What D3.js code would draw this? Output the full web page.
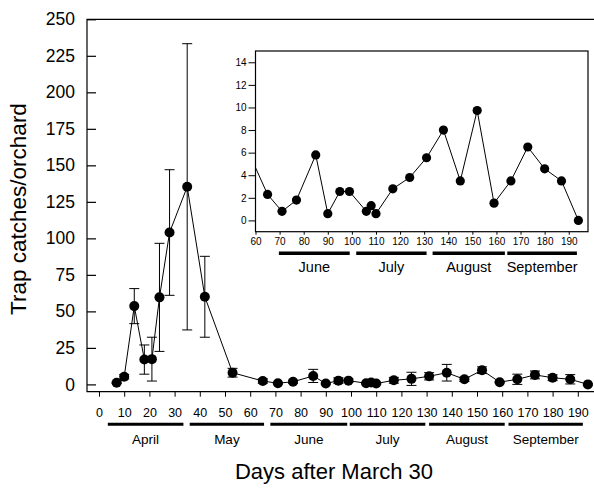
<!DOCTYPE html>
<html>
<head>
<meta charset="utf-8">
<script src="https://cdn.jsdelivr.net/npm/d3@7"></script>
<style>
  body { margin: 0; background: #fff; }
  text { font-family: "Liberation Sans", Arial, sans-serif; fill: #000; }
</style>
</head>
<body>
<script>
// sampling days (days after March 30), mean catches and SE
const days   = [7, 10, 14, 18, 21, 24, 28, 35, 42, 53, 65, 71, 77, 85, 90, 95, 99, 106, 108, 110,
                117, 124, 131, 138, 145, 152, 159, 166, 173, 180, 187, 194];
const catches = [1.1, 5.2, 53.6, 17, 17.3, 59.6, 104, 135.3, 60, 8, 2.3, 0.8, 1.8, 5.8, 0.6, 2.56, 2.56, 0.8, 1.3, 0.6,
                 2.8, 3.8, 5.55, 8.0, 3.5, 9.73, 1.53, 3.5, 6.5, 4.57, 3.5, 0];
const errors  = [0.5, 1.5, 12, 10, 15, 37, 43, 98, 27.7, 3, 1.5, 0.5, 1, 4.5, 0.5, 2, 1, 0.5, 0.8, 0.5,
                 2, 4.5, 2.5, 5.7, 1.5, 2.3, 0.5, 3.5, 2.7, 2, 3.2, 0.5];

const months = ["April", "May", "June", "July", "August", "September"];
const monthSpans = [[3.5, 33.5], [36, 65.5], [68, 98.5], [99.5, 129.5], [131, 161], [162.5, 192]];
const insetMonths = ["June", "July", "August", "September"];
const insetMonthSpans = [[69.7, 99.1], [101.8, 131], [133.5, 163.5], [164.5, 193.4]];

const yTicks = d3.range(0, 251, 25);
const xTicks = d3.range(0, 191, 10);
const insetYTicks = d3.range(0, 15, 2);
const insetXTicks = d3.range(60, 191, 10);

const points = days.map((d, i) => ({ day: d, value: catches[i], se: errors[i] }));

const width = 594, height = 488;
const svg = d3.select('body').append('svg')
  .attr('width', width)
  .attr('height', height);

// main scales
const x = d3.scaleLinear().domain([-4.76, 200]).range([87, 603]);
const y = d3.scaleLinear().domain([-5, 250]).range([391.7, 19.3]);

// inset scales
const ix = d3.scaleLinear().domain([60, 198]).range([255.5, 588]);
const iy = d3.scaleLinear().domain([-1, 15]).range([231.7, 51]);

drawMain();
drawInset();

function drawMain() {
  // frame: left, top, bottom
  svg.append('path')
    .attr('d', `M${x(200)},${y(250)}H${x(-4.76)}V${y(-5)}H${x(200)}`)
    .attr('fill', 'none').attr('stroke', '#000').attr('stroke-width', 1.2);

  let yAxis = svg.append('g')
    .attr('transform', `translate(${x(-4.76)},0)`)
    .call(d3.axisLeft(y).tickValues(yTicks).tickSizeInner(-9).tickSizeOuter(0).tickPadding(12));
  yAxis.select('.domain').remove();
  yAxis.selectAll('text').style('font-size', '17.5px');
  yAxis.selectAll('line').attr('stroke-width', 1.2);

  let xAxis = svg.append('g')
    .attr('transform', `translate(0,${y(-5)})`)
    .call(d3.axisBottom(x).tickValues(xTicks).tickSize(5).tickSizeOuter(0));
  xAxis.select('.domain').remove();
  xAxis.selectAll('text').attr('y', 25).attr('dy', null).style('font-size', '12.5px');

  // month bars
  svg.selectAll('.month-bar').data(monthSpans).enter().append('line')
    .attr('class', 'month-bar')
    .attr('x1', d => x(d[0])).attr('x2', d => x(d[1]))
    .attr('y1', 424.3).attr('y2', 424.3)
    .attr('stroke', '#000').attr('stroke-width', 3);
  svg.selectAll('.month-label').data(months).enter().append('text')
    .attr('class', 'month-label')
    .attr('x', (d, i) => x((monthSpans[i][0] + monthSpans[i][1]) / 2))
    .attr('y', 444)
    .attr('text-anchor', 'middle')
    .style('font-size', '13.5px')
    .text(d => d);

  // axis titles
  svg.append('text')
    .attr('x', 334).attr('y', 479)
    .attr('text-anchor', 'middle')
    .style('font-size', '22px')
    .text('Days after March 30');
  svg.append('text')
    .attr('transform', 'translate(26,209) rotate(-90)')
    .attr('text-anchor', 'middle')
    .style('font-size', '22.5px')
    .text('Trap catches/orchard');

  // error bars
  let eb = svg.append('g').attr('stroke', '#000').attr('stroke-width', 1);
  eb.selectAll('.eb').data(points).enter().append('path')
    .attr('d', d => {
      let cx = x(d.day), t = y(d.value + d.se), b = y(d.value - d.se);
      return `M${cx},${t}V${b}M${cx - 5},${t}H${cx + 5}M${cx - 5},${b}H${cx + 5}`;
    })
    .attr('fill', 'none');

  svg.append('path')
    .datum(points)
    .attr('d', d3.line().x(d => x(d.day)).y(d => y(d.value)))
    .attr('fill', 'none').attr('stroke', '#000').attr('stroke-width', 1);

  svg.selectAll('.dot').data(points).enter().append('circle')
    .attr('class', 'dot')
    .attr('cx', d => x(d.day)).attr('cy', d => y(d.value))
    .attr('r', 5)
    .attr('fill', '#000');
}

function drawInset() {
  let g = svg.append('g');
  g.append('clipPath').attr('id', 'inset-clip')
    .append('rect')
    .attr('x', ix(60)).attr('y', iy(15))
    .attr('width', ix(198) - ix(60)).attr('height', iy(-1) - iy(15));

  g.append('rect')
    .attr('x', ix(60)).attr('y', iy(15))
    .attr('width', ix(198) - ix(60)).attr('height', iy(-1) - iy(15))
    .attr('fill', '#fff').attr('stroke', '#000').attr('stroke-width', 1.2);

  let yAxis = g.append('g')
    .attr('transform', `translate(${ix(60)},0)`)
    .call(d3.axisLeft(iy).tickValues(insetYTicks).tickSize(7).tickSizeOuter(0).tickPadding(2));
  yAxis.select('.domain').remove();
  yAxis.selectAll('text').style('font-size', '10px');

  let xAxis = g.append('g')
    .attr('transform', `translate(0,${iy(-1)})`)
    .call(d3.axisBottom(ix).tickValues(insetXTicks).tickSize(3).tickSizeOuter(0));
  xAxis.select('.domain').remove();
  xAxis.selectAll('text').attr('y', 13.5).attr('dy', null).style('font-size', '10px');

  g.selectAll('.inset-bar').data(insetMonthSpans).enter().append('line')
    .attr('class', 'inset-bar')
    .attr('x1', d => ix(d[0])).attr('x2', d => ix(d[1]))
    .attr('y1', 253.3).attr('y2', 253.3)
    .attr('stroke', '#000').attr('stroke-width', 3.5);
  g.selectAll('.inset-label').data(insetMonths).enter().append('text')
    .attr('class', 'inset-label')
    .attr('x', (d, i) => ix((insetMonthSpans[i][0] + insetMonthSpans[i][1]) / 2))
    .attr('y', 271.7)
    .attr('text-anchor', 'middle')
    .style('font-size', '14.5px')
    .text(d => d);

  let clipped = g.append('g').attr('clip-path', 'url(#inset-clip)');
  clipped.append('path')
    .datum(points)
    .attr('d', d3.line().x(d => ix(d.day)).y(d => iy(d.value)))
    .attr('fill', 'none').attr('stroke', '#000').attr('stroke-width', 1);
  clipped.selectAll('.idot').data(points.filter(d => d.day >= 60)).enter().append('circle')
    .attr('class', 'idot')
    .attr('cx', d => ix(d.day)).attr('cy', d => iy(d.value))
    .attr('r', 4.6)
    .attr('fill', '#000');
}
</script>
</body>
</html>
